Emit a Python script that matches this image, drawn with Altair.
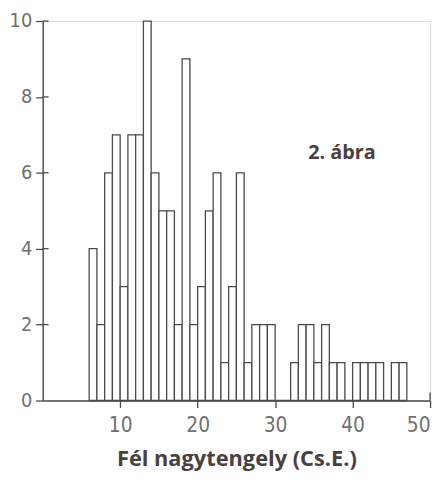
import altair as alt
import pandas as pd

bin_start = list(range(6, 47))
counts = [4, 2, 6, 7, 3, 7, 7, 10, 6, 5, 5, 2, 9, 2, 3, 5, 6, 1, 3, 6, 1,
          2, 2, 2, 0, 0, 1, 2, 2, 1, 2, 1, 1, 0, 1, 1, 1, 1, 0, 1, 1]
x_ticks = [10, 20, 30, 40, 50]
y_ticks = [0, 2, 4, 6, 8, 10]
x_title = "Fél nagytengely (Cs.E.)"
note = "2. ábra"

df = pd.DataFrame({"start": bin_start, "count": counts})
df["end"] = df["start"] + 1
df["base"] = 0

ink = "#4a4a4a"
label_font = "'DejaVu Sans Condensed', 'Liberation Sans Narrow', 'DejaVu Sans', sans-serif"
H = 383

bars = alt.Chart(df).mark_bar(fill="white", stroke=ink, strokeWidth=1.3).encode(
    x=alt.X("start:Q", scale=alt.Scale(domain=[0, 50], nice=False, zero=True),
            axis=alt.Axis(values=x_ticks, title=x_title, grid=False,
                          domainColor=ink, domainWidth=1.4, tickColor=ink, tickSize=7,
                          tickWidth=1.3,
                          labelPadding=7, labelFont=label_font, labelFontSize=21,
                          labelColor="#707070",
                          titleFont="Open Sans", titleFontSize=22, titleFontWeight="bold",
                          titleColor="#4a4040", titlePadding=14)),
    x2="end:Q",
    y=alt.Y("count:Q", scale=alt.Scale(domain=[0, 10], nice=False),
            axis=alt.Axis(values=y_ticks, title=None, grid=False,
                          domainColor=ink, domainWidth=1.4, tickColor=ink, tickSize=7,
                          tickWidth=1.3,
                          labelPadding=4, labelFont=label_font, labelFontSize=20,
                          labelColor="#707070")),
    y2="base:Q",
)

inner_y_ticks = alt.Chart(pd.DataFrame({"t": y_ticks[1:]})).mark_rule(
    color=ink, strokeWidth=1.3).encode(
    y="t:Q", x=alt.value(0), x2=alt.value(6))

inner_x_tick = alt.Chart(pd.DataFrame({"t": x_ticks[-1:]})).mark_rule(
    color=ink, strokeWidth=1.3).encode(
    x="t:Q", y=alt.value(H), y2=alt.value(H - 8))

label = alt.Chart(pd.DataFrame({"txt": [note]})).mark_text(
    font="Open Sans", fontSize=20, fontWeight="bold", color="#4a4040").encode(
    text="txt:N", x=alt.value(302), y=alt.value(133))

chart = alt.layer(bars, inner_y_ticks, inner_x_tick, label).properties(
    width=391, height=H,
    autosize=alt.AutoSizeParams(type="none"),
    padding={"left": 35, "top": 11, "right": 10, "bottom": 70},
).configure_view(stroke=None).configure(background="white")

chart.save("out.html", embed_options={"renderer": "svg", "actions": False})
